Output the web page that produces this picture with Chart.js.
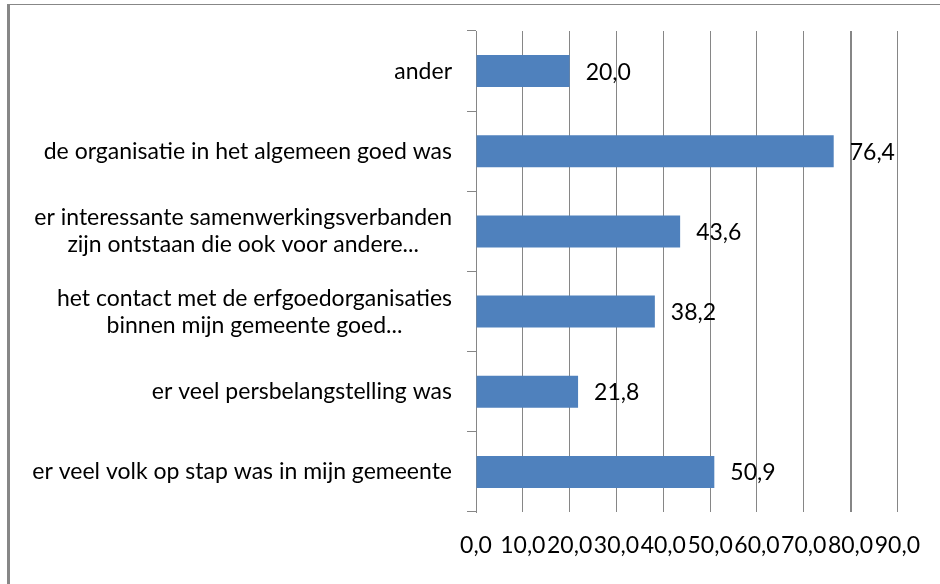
<!DOCTYPE html>
<html>
<head>
<meta charset="utf-8">
<script src="https://cdn.jsdelivr.net/npm/chart.js@4/dist/chart.umd.min.js"></script>
<style>
  html, body { margin: 0; padding: 0; background: #fff; }
  canvas { display: block; }
</style>
</head>
<body>
<canvas id="surveyChart" width="940" height="584"></canvas>
<script>
// categories, top to bottom
const categories = [
    ['ander'],
    ['de organisatie in het algemeen goed was'],
    ['er interessante samenwerkingsverbanden', 'zijn ontstaan die ook voor andere...'],
    ['het contact met de erfgoedorganisaties', 'binnen mijn gemeente goed...'],
    ['er veel persbelangstelling was'],
    ['er veel volk op stap was in mijn gemeente']
];
const percentages = [20.0, 76.4, 43.6, 38.2, 21.8, 50.9];
const xTickLabels = ['0,0', '10,0', '20,0', '30,0', '40,0', '50,0', '60,0', '70,0', '80,0', '90,0'];

const FONT = '23px Lato';
const GRID = '#868686';

function fmt(v) {
    return v.toFixed(1).replace('.', ',');
}

// outer frame (left + top edge of the chart object)
const framePlugin = {
    id: 'frame',
    beforeDraw(chart) {
        const c = chart.ctx;
        c.save();
        c.fillStyle = '#878787';
        c.fillRect(7, 4, 3, chart.height - 4);
        c.fillRect(7, 4, chart.width - 7, 1);
        c.restore();
    }
};

// category labels, lines centred on each other, block right aligned
const catLabelPlugin = {
    id: 'catLabels',
    afterDraw(chart) {
        const scale = chart.scales.y;
        const c = chart.ctx;
        const right = scale.right - 24;
        const lineH = 27;
        c.save();
        c.font = FONT;
        c.fillStyle = '#000';
        c.textAlign = 'center';
        c.textBaseline = 'middle';
        chart.data.labels.forEach((lines, i) => {
            const y = scale.getPixelForTick(i);
            const w = Math.max(...lines.map(l => c.measureText(l).width));
            const cx = right - w / 2;
            const y0 = y - (lines.length - 1) * lineH / 2;
            lines.forEach((l, j) => c.fillText(l, cx, y0 + j * lineH));
        });
        c.restore();
    }
};

// value labels to the right of each bar
const valueLabelPlugin = {
    id: 'valueLabels',
    afterDatasetsDraw(chart) {
        const c = chart.ctx;
        const meta = chart.getDatasetMeta(0);
        c.save();
        c.font = FONT;
        c.fillStyle = '#000';
        c.textAlign = 'left';
        c.textBaseline = 'middle';
        meta.data.forEach((bar, i) => {
            c.fillText(fmt(chart.data.datasets[0].data[i]), bar.x + 16, bar.y + 1);
        });
        c.restore();
    }
};

function draw() {
    const ctx = document.getElementById('surveyChart').getContext('2d');
    new Chart(ctx, {
        type: 'bar',
        data: {
            labels: categories,
            datasets: [{
                data: percentages,
                backgroundColor: '#4F81BD',
                borderWidth: 0,
                categoryPercentage: 1,
                barPercentage: 0.4
            }]
        },
        options: {
            indexAxis: 'y',
            responsive: false,
            animation: false,
            layout: {
                padding: { left: 0, right: 38, top: 31, bottom: 0 }
            },
            plugins: {
                legend: { display: false },
                tooltip: { enabled: false }
            },
            scales: {
                x: {
                    min: 0,
                    max: 90,
                    grid: {
                        color: GRID,
                        lineWidth: c => (c.tick && c.tick.value === 80 ? 2 : 1),
                        drawTicks: false
                    },
                    border: { display: false },
                    ticks: {
                        stepSize: 10,
                        autoSkip: false,
                        maxRotation: 0,
                        minRotation: 0,
                        padding: 20,
                        color: '#000',
                        font: { family: 'Lato', size: 23 },
                        callback: (v, i) => xTickLabels[i]
                    },
                    afterFit: s => { s.height = 72; }
                },
                y: {
                    grid: {
                        color: GRID,
                        drawOnChartArea: false,
                        drawTicks: true,
                        tickLength: 9,
                        offset: true
                    },
                    border: { color: GRID, width: 1 },
                    ticks: { display: false },
                    afterFit: s => { s.width = 476; }
                }
            }
        },
        plugins: [framePlugin, catLabelPlugin, valueLabelPlugin]
    });
}

document.addEventListener('DOMContentLoaded', function() {
    if (document.fonts && document.fonts.load) {
        document.fonts.load(FONT).then(draw, draw);
    } else {
        draw();
    }
});
</script>
</body>
</html>
